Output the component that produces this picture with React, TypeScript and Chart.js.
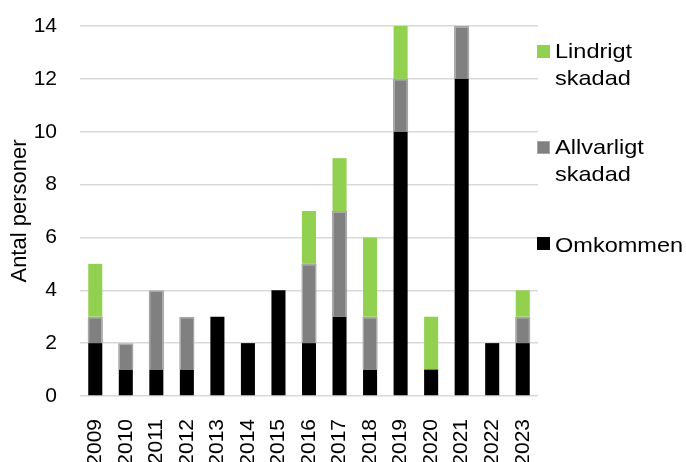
import React, { useEffect, useRef } from "react";
import { Chart, registerables } from "chart.js";

Chart.register(...registerables);

const years = ["2009","2010","2011","2012","2013","2014","2015","2016","2017","2018","2019","2020","2021","2022","2023"];
const omkommen = [2, 1, 1, 1, 3, 2, 4, 2, 3, 1, 10, 1, 12, 2, 2];
const allvarligt = [1, 1, 3, 2, 0, 0, 0, 3, 4, 2, 2, 0, 2, 0, 1];
const lindrigt = [2, 0, 0, 0, 0, 0, 0, 2, 2, 3, 2, 2, 0, 0, 1];
const yTitle = "Antal personer";

const FONT = "'Liberation Sans', Arial, sans-serif";

export default function App() {
  const ref = useRef<HTMLCanvasElement | null>(null);
  useEffect(() => {
    document.body.style.margin = "0";
    const ctx = ref.current!;
    const chart = new Chart(ctx, {
      type: "bar",
      data: {
        labels: years,
        datasets: [
          { label: "Omkommen", data: omkommen, backgroundColor: "#000000", borderWidth: 0 },
          { label: "Allvarligt skadad", data: allvarligt, backgroundColor: "#808080", borderColor: "#a6a6a6", borderWidth: 1.5, barPercentage: 0.5 },
          { label: "Lindrigt skadad", data: lindrigt, backgroundColor: "#92d050", borderWidth: 0 },
        ],
      },
      options: {
        animation: false,
        responsive: false,
        devicePixelRatio: 1,
        layout: { padding: { top: 26, right: 148, left: 0, bottom: 0 } },
        datasets: { bar: { categoryPercentage: 1, barPercentage: 0.46 } },
        plugins: { legend: { display: false }, tooltip: { enabled: false } },
        scales: {
          x: {
            stacked: true,
            grid: { display: false },
            border: { display: false },
            ticks: {
              color: "#000",
              font: { family: FONT, size: 21 },
              minRotation: 90,
              maxRotation: 90,
              padding: 15,
              autoSkip: false,
            },
            afterFit: (s: any) => { s.height = 66; },
          },
          y: {
            stacked: true,
            min: 0,
            max: 14,
            grid: {
              color: "#d9d9d9",
              lineWidth: 1.5,
              drawTicks: true,
              tickLength: 23,
              tickColor: "rgba(0,0,0,0)",
            },
            border: { display: false },
            ticks: {
              stepSize: 2,
              color: "#000",
              font: { family: FONT, size: 21 },
              padding: 0,
            },
            title: {
              display: true,
              text: yTitle,
              color: "#000",
              font: { family: FONT, size: 22 },
              padding: { top: 7, bottom: 0 },
            },
            afterFit: (s: any) => { s.width = 80; },
          },
        },
      },
    });
    return () => chart.destroy();
  }, []);

  const textStyle: React.CSSProperties = {
    position: "absolute",
    left: 555,
    fontFamily: FONT,
    fontSize: 21,
    lineHeight: "27px",
    color: "#000",
    whiteSpace: "nowrap",
    transform: "scaleX(1.12)",
    transformOrigin: "0 0",
  };
  const sq = (top: number, color: string, border?: string): React.CSSProperties => ({
    position: "absolute",
    left: 537,
    top,
    width: border ? 11 : 13,
    height: border ? 11 : 13,
    background: color,
    border: border ? `1px solid ${border}` : undefined,
  });

  return (
    <div style={{ position: "relative", width: 686, height: 462 }}>
      <canvas ref={ref} width={686} height={462} style={{ display: "block" }} />
      <div style={sq(45, "#92d050")} />
      <div style={{ ...textStyle, top: 37 }}>Lindrigt<br />skadad</div>
      <div style={sq(141, "#808080", "#a6a6a6")} />
      <div style={{ ...textStyle, top: 133 }}>Allvarligt<br />skadad</div>
      <div style={sq(237, "#000000")} />
      <div style={{ ...textStyle, top: 231 }}>Omkommen</div>
    </div>
  );
}
